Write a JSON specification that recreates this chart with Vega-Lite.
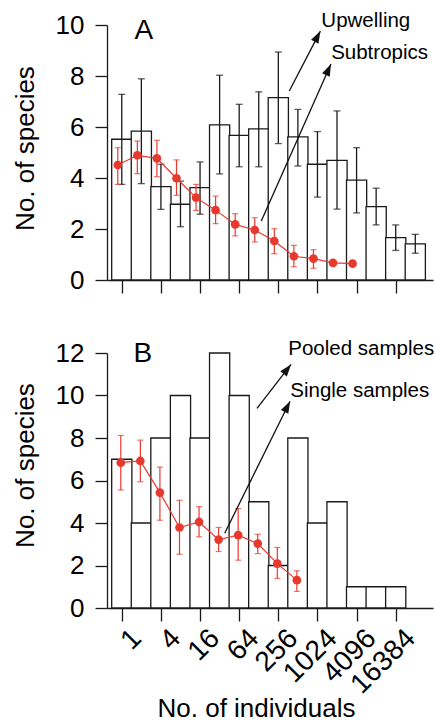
{
  "$schema": "https://vega.github.io/schema/vega-lite/v6.json",
  "padding": {"left": 12, "top": 10, "right": 0, "bottom": 0},
  "background": "white",
  "datasets": {
    "upwelling": [
      {"octave": 0, "species": 5.52, "lo": 3.75, "hi": 7.28},
      {"octave": 1, "species": 5.84, "lo": 3.78, "hi": 7.89},
      {"octave": 2, "species": 3.66, "lo": 2.77, "hi": 4.54},
      {"octave": 3, "species": 2.97, "lo": 2.09, "hi": 3.88},
      {"octave": 4, "species": 3.62, "lo": 2.58, "hi": 4.63},
      {"octave": 5, "species": 6.08, "lo": 4.16, "hi": 8.03},
      {"octave": 6, "species": 5.67, "lo": 4.44, "hi": 6.89},
      {"octave": 7, "species": 5.93, "lo": 4.44, "hi": 7.38},
      {"octave": 8, "species": 7.15, "lo": 5.35, "hi": 8.94},
      {"octave": 9, "species": 5.61, "lo": 4.47, "hi": 6.69},
      {"octave": 10, "species": 4.54, "lo": 3.25, "hi": 5.82},
      {"octave": 11, "species": 4.69, "lo": 2.78, "hi": 6.63},
      {"octave": 12, "species": 3.92, "lo": 2.63, "hi": 5.19},
      {"octave": 13, "species": 2.88, "lo": 2.16, "hi": 3.6},
      {"octave": 14, "species": 1.66, "lo": 1.16, "hi": 2.16},
      {"octave": 15, "species": 1.42, "lo": 1.05, "hi": 1.79}
    ],
    "subtropics": [
      {"octave": 0, "species": 4.51, "lo": 3.75, "hi": 5.19},
      {"octave": 1, "species": 4.89, "lo": 4.17, "hi": 5.45},
      {"octave": 2, "species": 4.77, "lo": 4.05, "hi": 5.48},
      {"octave": 3, "species": 3.99, "lo": 3.32, "hi": 4.71},
      {"octave": 4, "species": 3.23, "lo": 2.73, "hi": 3.75},
      {"octave": 5, "species": 2.74, "lo": 2.21, "hi": 3.29},
      {"octave": 6, "species": 2.18, "lo": 1.73, "hi": 2.6},
      {"octave": 7, "species": 1.96, "lo": 1.49, "hi": 2.44},
      {"octave": 8, "species": 1.53, "lo": 1.03, "hi": 2.01},
      {"octave": 9, "species": 0.93, "lo": 0.52, "hi": 1.36},
      {"octave": 10, "species": 0.84, "lo": 0.46, "hi": 1.19},
      {"octave": 11, "species": 0.67},
      {"octave": 12, "species": 0.64}
    ],
    "pooled": [
      {"octave": 0, "species": 7},
      {"octave": 1, "species": 4},
      {"octave": 2, "species": 8},
      {"octave": 3, "species": 10},
      {"octave": 4, "species": 8},
      {"octave": 5, "species": 12},
      {"octave": 6, "species": 10},
      {"octave": 7, "species": 5},
      {"octave": 8, "species": 2},
      {"octave": 9, "species": 8},
      {"octave": 10, "species": 4},
      {"octave": 11, "species": 5},
      {"octave": 12, "species": 1},
      {"octave": 13, "species": 1},
      {"octave": 14, "species": 1}
    ],
    "single": [
      {"octave": 0, "species": 6.84, "lo": 5.55, "hi": 8.12},
      {"octave": 1, "species": 6.92, "lo": 5.94, "hi": 7.9},
      {"octave": 2, "species": 5.43, "lo": 4.13, "hi": 6.63},
      {"octave": 3, "species": 3.79, "lo": 2.53, "hi": 5.07},
      {"octave": 4, "species": 4.05, "lo": 3.35, "hi": 4.77},
      {"octave": 5, "species": 3.22, "lo": 2.66, "hi": 3.79},
      {"octave": 6, "species": 3.43, "lo": 2.25, "hi": 4.68},
      {"octave": 7, "species": 3.03, "lo": 2.56, "hi": 3.47},
      {"octave": 8, "species": 2.09, "lo": 1.39, "hi": 2.85},
      {"octave": 9, "species": 1.31, "lo": 0.78, "hi": 1.75}
    ],
    "annA": [
      {"label": "Upwelling", "x": 8.56, "y": 7.41, "x2": 10.15, "y2": 9.76, "tx": 10.2, "ty": 10.16},
      {"label": "Subtropics", "x": 7.13, "y": 2.31, "x2": 10.69, "y2": 8.47, "tx": 10.7, "ty": 8.91}
    ],
    "annB": [
      {"label": "Pooled samples", "x": 6.91, "y": 9.39, "x2": 8.65, "y2": 11.46, "tx": 8.51, "ty": 12.17},
      {"label": "Single samples", "x": 5.26, "y": 3.52, "x2": 8.6, "y2": 9.73, "tx": 8.61, "ty": 10.2}
    ]
  },
  "vconcat": [
    {
      "width": 326,
      "height": 255,
      "layer": [
        {
          "data": {"name": "upwelling"},
          "mark": {"type": "bar", "width": 20.19, "fill": "white", "stroke": "#1a1a1a", "strokeWidth": 1.3},
          "encoding": {
            "x": {"field": "octave", "type": "quantitative", "scale": {"domain": [-0.5, 15.65], "nice": false, "zero": false},
                  "axis": {"title": null, "labels": false, "values": [0, 2, 4, 6, 8, 10, 12, 14], "tickSize": 13}},
            "y": {"field": "species", "type": "quantitative", "scale": {"domain": [0, 10], "nice": false},
                  "axis": {"title": "No. of species", "values": [0, 2, 4, 6, 8, 10], "titleY": 123}}
          }
        },
        {
          "data": {"name": "upwelling"},
          "mark": {"type": "rule", "color": "#1a1a1a", "strokeWidth": 1.3},
          "encoding": {
            "x": {"field": "octave", "type": "quantitative"},
            "y": {"field": "lo", "type": "quantitative"},
            "y2": {"field": "hi"}
          }
        },
        {
          "data": {"name": "upwelling"},
          "mark": {"type": "tick", "orient": "horizontal", "size": 7, "thickness": 1.3, "color": "#1a1a1a"},
          "encoding": {
            "x": {"field": "octave", "type": "quantitative"},
            "y": {"field": "lo", "type": "quantitative"}
          }
        },
        {
          "data": {"name": "upwelling"},
          "mark": {"type": "tick", "orient": "horizontal", "size": 7, "thickness": 1.3, "color": "#1a1a1a"},
          "encoding": {
            "x": {"field": "octave", "type": "quantitative"},
            "y": {"field": "hi", "type": "quantitative"}
          }
        },
        {
          "data": {"name": "subtropics"},
          "mark": {"type": "line", "color": "#e8392f", "strokeWidth": 1.2, "xOffset": -4},
          "encoding": {
            "x": {"field": "octave", "type": "quantitative"},
            "y": {"field": "species", "type": "quantitative"}
          }
        },
        {
          "data": {"name": "subtropics"},
          "mark": {"type": "rule", "color": "#e8392f", "strokeWidth": 1.2, "xOffset": -4},
          "encoding": {
            "x": {"field": "octave", "type": "quantitative"},
            "y": {"field": "lo", "type": "quantitative"},
            "y2": {"field": "hi"}
          }
        },
        {
          "data": {"name": "subtropics"},
          "mark": {"type": "tick", "orient": "horizontal", "size": 6, "thickness": 1.2, "color": "#e8392f", "xOffset": -4},
          "encoding": {
            "x": {"field": "octave", "type": "quantitative"},
            "y": {"field": "lo", "type": "quantitative"}
          }
        },
        {
          "data": {"name": "subtropics"},
          "mark": {"type": "tick", "orient": "horizontal", "size": 6, "thickness": 1.2, "color": "#e8392f", "xOffset": -4},
          "encoding": {
            "x": {"field": "octave", "type": "quantitative"},
            "y": {"field": "hi", "type": "quantitative"}
          }
        },
        {
          "data": {"name": "subtropics"},
          "mark": {"type": "point", "shape": "circle", "filled": true, "size": 75, "opacity": 1, "color": "#e8392f", "xOffset": -4},
          "encoding": {
            "x": {"field": "octave", "type": "quantitative"},
            "y": {"field": "species", "type": "quantitative"}
          }
        },
        {
          "data": {"name": "annA"},
          "mark": {"type": "rule", "color": "#111", "strokeWidth": 1.3},
          "encoding": {
            "x": {"field": "x", "type": "quantitative"},
            "y": {"field": "y", "type": "quantitative"},
            "x2": {"field": "x2"},
            "y2": {"field": "y2"}
          }
        },
        {
          "data": {"name": "annA"},
          "transform": [{"filter": "datum.label == 'Upwelling'"}],
          "mark": {"type": "point", "shape": "M0,0L0.7,2L-0.7,2Z", "filled": true, "size": 144, "opacity": 1, "color": "#111", "angle": 28},
          "encoding": {
            "x": {"field": "x2", "type": "quantitative"},
            "y": {"field": "y2", "type": "quantitative"}
          }
        },
        {
          "data": {"name": "annA"},
          "transform": [{"filter": "datum.label == 'Subtropics'"}],
          "mark": {"type": "point", "shape": "M0,0L0.7,2L-0.7,2Z", "filled": true, "size": 144, "opacity": 1, "color": "#111", "angle": 24.6},
          "encoding": {
            "x": {"field": "x2", "type": "quantitative"},
            "y": {"field": "y2", "type": "quantitative"}
          }
        },
        {
          "data": {"name": "annA"},
          "mark": {"type": "text", "align": "left", "baseline": "middle", "fontSize": 20.5, "font": "Liberation Sans", "color": "#000"},
          "encoding": {
            "x": {"field": "tx", "type": "quantitative"},
            "y": {"field": "ty", "type": "quantitative"},
            "text": {"field": "label"}
          }
        },
        {
          "data": {"values": [{"panel": "A", "x": 1.13, "y": 9.76}]},
          "mark": {"type": "text", "align": "center", "baseline": "middle", "fontSize": 28, "font": "Liberation Sans", "color": "#000"},
          "encoding": {
            "x": {"field": "x", "type": "quantitative"},
            "y": {"field": "y", "type": "quantitative"},
            "text": {"field": "panel"}
          }
        }
      ]
    },
    {
      "width": 326,
      "height": 255,
      "layer": [
        {
          "data": {"name": "pooled"},
          "mark": {"type": "bar", "width": 20.19, "fill": "white", "stroke": "#1a1a1a", "strokeWidth": 1.3},
          "encoding": {
            "x": {"field": "octave", "type": "quantitative", "scale": {"domain": [-0.5, 15.65], "nice": false, "zero": false},
                  "axis": {"title": "No. of individuals", "values": [0, 2, 4, 6, 8, 10, 12, 14], "tickSize": 13,
                           "labelExpr": "format(pow(2, datum.value), 'd')", "labelAngle": -45, "labelAlign": "right", "labelBaseline": "top",
                           "labelPadding": 3, "labelOffset": 5, "labelFontSize": 28,
                           "titleX": 149, "titleY": 108, "titleAlign": "center", "titleBaseline": "alphabetic"}},
            "y": {"field": "species", "type": "quantitative", "scale": {"domain": [0, 12], "nice": false},
                  "axis": {"title": "No. of species", "values": [0, 2, 4, 6, 8, 10, 12], "titleY": 112}}
          }
        },
        {
          "data": {"name": "single"},
          "mark": {"type": "line", "color": "#e8392f", "strokeWidth": 1.2, "xOffset": -1},
          "encoding": {
            "x": {"field": "octave", "type": "quantitative"},
            "y": {"field": "species", "type": "quantitative"}
          }
        },
        {
          "data": {"name": "single"},
          "mark": {"type": "rule", "color": "#e8392f", "strokeWidth": 1.2, "xOffset": -1},
          "encoding": {
            "x": {"field": "octave", "type": "quantitative"},
            "y": {"field": "lo", "type": "quantitative"},
            "y2": {"field": "hi"}
          }
        },
        {
          "data": {"name": "single"},
          "mark": {"type": "tick", "orient": "horizontal", "size": 6, "thickness": 1.2, "color": "#e8392f", "xOffset": -1},
          "encoding": {
            "x": {"field": "octave", "type": "quantitative"},
            "y": {"field": "lo", "type": "quantitative"}
          }
        },
        {
          "data": {"name": "single"},
          "mark": {"type": "tick", "orient": "horizontal", "size": 6, "thickness": 1.2, "color": "#e8392f", "xOffset": -1},
          "encoding": {
            "x": {"field": "octave", "type": "quantitative"},
            "y": {"field": "hi", "type": "quantitative"}
          }
        },
        {
          "data": {"name": "single"},
          "mark": {"type": "point", "shape": "circle", "filled": true, "size": 75, "opacity": 1, "color": "#e8392f", "xOffset": -1},
          "encoding": {
            "x": {"field": "octave", "type": "quantitative"},
            "y": {"field": "species", "type": "quantitative"}
          }
        },
        {
          "data": {"name": "annB"},
          "mark": {"type": "rule", "color": "#111", "strokeWidth": 1.3},
          "encoding": {
            "x": {"field": "x", "type": "quantitative"},
            "y": {"field": "y", "type": "quantitative"},
            "x2": {"field": "x2"},
            "y2": {"field": "y2"}
          }
        },
        {
          "data": {"name": "annB"},
          "transform": [{"filter": "datum.label == 'Pooled samples'"}],
          "mark": {"type": "point", "shape": "M0,0L0.7,2L-0.7,2Z", "filled": true, "size": 144, "opacity": 1, "color": "#111", "angle": 38.5},
          "encoding": {
            "x": {"field": "x2", "type": "quantitative"},
            "y": {"field": "y2", "type": "quantitative"}
          }
        },
        {
          "data": {"name": "annB"},
          "transform": [{"filter": "datum.label == 'Single samples'"}],
          "mark": {"type": "point", "shape": "M0,0L0.7,2L-0.7,2Z", "filled": true, "size": 144, "opacity": 1, "color": "#111", "angle": 27},
          "encoding": {
            "x": {"field": "x2", "type": "quantitative"},
            "y": {"field": "y2", "type": "quantitative"}
          }
        },
        {
          "data": {"name": "annB"},
          "mark": {"type": "text", "align": "left", "baseline": "middle", "fontSize": 20.5, "font": "Liberation Sans", "color": "#000"},
          "encoding": {
            "x": {"field": "tx", "type": "quantitative"},
            "y": {"field": "ty", "type": "quantitative"},
            "text": {"field": "label"}
          }
        },
        {
          "data": {"values": [{"panel": "B", "x": 1.08, "y": 11.94}]},
          "mark": {"type": "text", "align": "center", "baseline": "middle", "fontSize": 28, "font": "Liberation Sans", "color": "#000"},
          "encoding": {
            "x": {"field": "x", "type": "quantitative"},
            "y": {"field": "y", "type": "quantitative"},
            "text": {"field": "panel"}
          }
        }
      ]
    }
  ],
  "bounds": "flush",
  "spacing": 73,
  "config": {
    "view": {"stroke": null},
    "font": "Liberation Sans",
    "axis": {
      "grid": false,
      "domainColor": "#1a1a1a",
      "domainWidth": 1.3,
      "tickColor": "#1a1a1a",
      "tickWidth": 1.3,
      "labelColor": "#000",
      "titleColor": "#000",
      "labelFont": "Liberation Sans",
      "titleFont": "Liberation Sans",
      "labelFontSize": 26,
      "titleFontSize": 26,
      "titleFontWeight": "normal",
      "labelFlush": false,
      "labelOverlap": false
    },
    "axisY": {"tickSize": 12, "labelPadding": 11, "titlePadding": 17},
    "axisX": {"titlePadding": 6}
  }
}
